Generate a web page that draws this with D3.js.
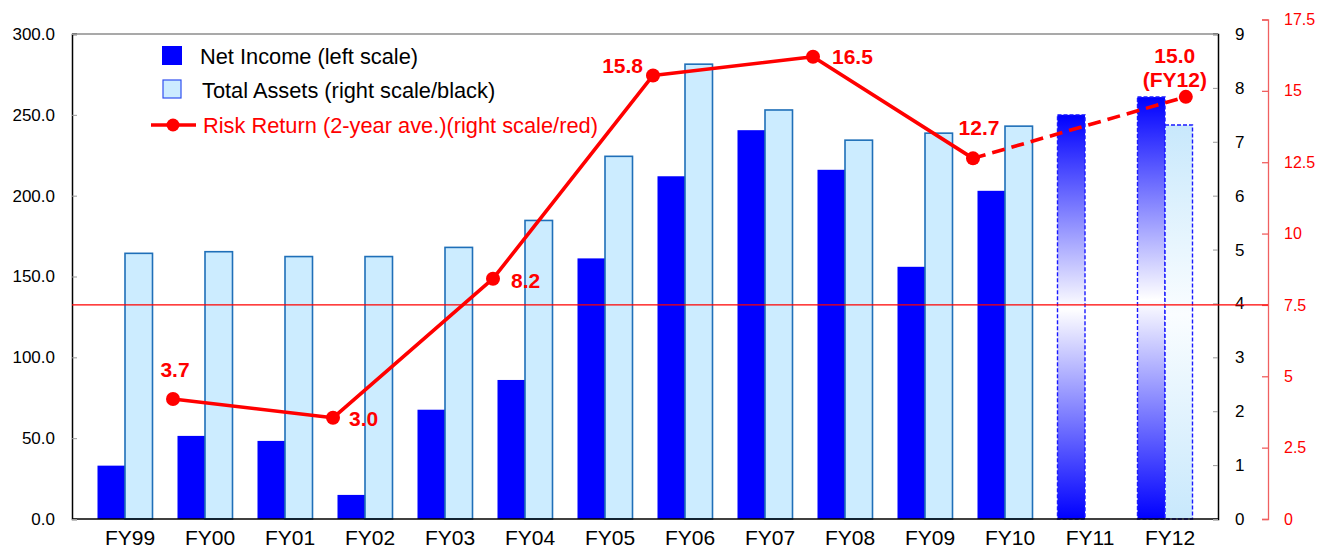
<!DOCTYPE html>
<html>
<head>
<meta charset="utf-8">
<script src="https://cdn.jsdelivr.net/npm/d3@7"></script>
<style>
  html, body { margin: 0; padding: 0; background: #fff; }
  svg { display: block; font-family: Arial, "Liberation Sans", sans-serif; }
</style>
</head>
<body>
<svg id="chart" width="1317" height="548"></svg>
<script>
// Fiscal years on the category axis
const categories = ["FY99","FY00","FY01","FY02","FY03","FY04","FY05","FY06","FY07","FY08","FY09","FY10","FY11","FY12"];
// Years shown as forecasts (gradient fill, dashed outline)
const forecastYears = ["FY11","FY12"];
// Net income, left scale
const netIncome = [33, 51.4, 48.3, 14.9, 67.6, 86, 161.2, 212, 240.5, 216, 156, 203, 250, 261];
// Total assets, right black scale (no figure for FY11)
const totalAssets = [4.93, 4.96, 4.87, 4.87, 5.04, 5.54, 6.73, 8.44, 7.59, 7.03, 7.16, 7.29, null, 7.31];
// Risk return, 2-year average, right red scale
const riskYears = ["FY99","FY01","FY03","FY05","FY07","FY09","FY12"];
const riskValues = [3.7, 3.0, 8.2, 15.8, 16.5, 12.7, 15.0];
// Axis ticks
const leftTicks = [0, 50, 100, 150, 200, 250, 300];
const blackTicks = [0, 1, 2, 3, 4, 5, 6, 7, 8, 9];
const redTicks = [0, 2.5, 5, 7.5, 10, 12.5, 15, 17.5];
const redReference = 7.5;

const svg = d3.select("#chart");
const plot = { left: 72, right: 1218, top: 34, bottom: 519 };
const redAxisX = 1268;
const font = 'Arial, "Liberation Sans", sans-serif';

const x = d3.scaleBand().domain(categories).range([85, 1205]).paddingInner(0.3125).paddingOuter(0.15625);
const xSub = d3.scaleBand().domain(["income", "assets"]).range([0, x.bandwidth()]);
const yLeft = d3.scaleLinear().domain([0, 300]).range([plot.bottom, plot.top]);
const yBlack = d3.scaleLinear().domain([0, 9]).range([plot.bottom, plot.top]);
const yRed = d3.scaleLinear().domain([0, 17.5]).range([plot.bottom, 19.5]);
const yRisk = d3.scaleLinear().domain([0, 17.5]).range([498, 30]);

// Gradients for forecast bars
const defs = svg.append("defs");
function vGrad(id, edge, mid) {
  const g = defs.append("linearGradient").attr("id", id)
    .attr("x1", 0).attr("y1", 0).attr("x2", 0).attr("y2", 1);
  g.append("stop").attr("offset", "0%").attr("stop-color", edge);
  g.append("stop").attr("offset", "48%").attr("stop-color", mid);
  g.append("stop").attr("offset", "100%").attr("stop-color", edge);
}
vGrad("gradIncome", "#0000FF", "#FFFFFF");
vGrad("gradAssets", "#C8E8FC", "#FAFDFF");

const rows = categories.map((c, i) => ({ fy: c, income: netIncome[i], assets: totalAssets[i], forecast: forecastYears.includes(c) }));

// Net income bars
svg.append("g").selectAll("rect").data(rows).join("rect")
  .attr("x", d => x(d.fy) + xSub("income"))
  .attr("y", d => yLeft(d.income))
  .attr("width", xSub.bandwidth())
  .attr("height", d => yLeft(0) - yLeft(d.income))
  .attr("fill", d => d.forecast ? "url(#gradIncome)" : "#0000FF")
  .attr("stroke", d => d.forecast ? "#1A1AFF" : "none")
  .attr("stroke-width", 1.4)
  .attr("stroke-dasharray", d => d.forecast ? "4,2" : null);

// Total assets bars
svg.append("g").selectAll("rect").data(rows.filter(d => d.assets != null)).join("rect")
  .attr("x", d => x(d.fy) + xSub("assets"))
  .attr("y", d => yBlack(d.assets))
  .attr("width", xSub.bandwidth())
  .attr("height", d => yBlack(0) - yBlack(d.assets))
  .attr("fill", d => d.forecast ? "url(#gradAssets)" : "#CCECFF")
  .attr("stroke", d => d.forecast ? "#1A1AFF" : "#1F6FB8")
  .attr("stroke-width", d => d.forecast ? 1.4 : 1.6)
  .attr("stroke-dasharray", d => d.forecast ? "4,2" : null);

// Plot frame
const frame = svg.append("g");
frame.append("line").attr("x1", plot.left).attr("x2", plot.right).attr("y1", plot.top).attr("y2", plot.top)
  .attr("stroke", "#8C8C8C").attr("stroke-width", 1.5);
frame.append("line").attr("x1", plot.left).attr("x2", plot.right).attr("y1", plot.bottom).attr("y2", plot.bottom)
  .attr("stroke", "#000").attr("stroke-width", 1.5);

// Left axis
const gLeft = svg.append("g").attr("transform", `translate(${plot.left},0)`)
  .call(d3.axisRight(yLeft).tickValues(leftTicks).tickSize(5).tickFormat(d3.format(".1f")));
gLeft.select(".domain").attr("stroke", "#000").attr("stroke-width", 1.5);
gLeft.selectAll(".tick line").attr("stroke", "#999");
gLeft.selectAll(".tick text").attr("x", -17).attr("text-anchor", "end")
  .attr("font-family", font).attr("font-size", 17).attr("fill", "#000");

// Right black axis
const gBlack = svg.append("g").attr("transform", `translate(${plot.right},0)`)
  .call(d3.axisLeft(yBlack).tickValues(blackTicks).tickSize(5).tickFormat(d3.format("d")));
gBlack.select(".domain").attr("stroke", "#000").attr("stroke-width", 1.5);
gBlack.selectAll(".tick line").attr("stroke", "#999");
gBlack.selectAll(".tick text").attr("x", 17).attr("text-anchor", "start")
  .attr("font-family", font).attr("font-size", 17).attr("fill", "#000");

// Right red axis
const gRed = svg.append("g").attr("transform", `translate(${redAxisX},0)`)
  .call(d3.axisLeft(yRed).tickValues(redTicks).tickSize(6).tickFormat(d => String(d)));
gRed.select(".domain").attr("stroke", "#F06060").attr("stroke-width", 1.3);
gRed.selectAll(".tick line").attr("stroke", "#F06060").attr("stroke-width", 1.3);
gRed.selectAll(".tick text").attr("x", 16).attr("text-anchor", "start")
  .attr("font-family", font).attr("font-size", 16).attr("fill", "#FF0000");

// Category labels
svg.append("g").selectAll("text").data(categories).join("text")
  .attr("x", d => x(d) + x.bandwidth() / 2 + 5)
  .attr("y", 545)
  .attr("text-anchor", "middle")
  .attr("font-family", font).attr("font-size", 21).attr("fill", "#000")
  .text(d => d);

// Red reference line on the red scale
svg.append("line")
  .attr("x1", plot.left).attr("x2", redAxisX)
  .attr("y1", yRed(redReference)).attr("y2", yRed(redReference))
  .attr("stroke", "#FF0000").attr("stroke-width", 1.3);

// Risk return line
const risk = riskYears.map((fy, i) => ({ fy, value: riskValues[i], forecast: forecastYears.includes(fy) }));
const rx = d => x(d.fy) + x.bandwidth() / 2 + x.step() * (d.forecast ? 0.26 : 0.6);
const line = d3.line().x(rx).y(d => yRisk(d.value));
const actual = risk.filter(d => !d.forecast);
const lastActual = actual[actual.length - 1];
const projected = [lastActual].concat(risk.filter(d => d.forecast));

svg.append("path").datum(actual).attr("d", line)
  .attr("fill", "none").attr("stroke", "#FF0000").attr("stroke-width", 3.6).attr("stroke-linejoin", "round");
svg.append("path").datum(projected).attr("d", line)
  .attr("fill", "none").attr("stroke", "#FF0000").attr("stroke-width", 3.6).attr("stroke-dasharray", "13,7");

svg.append("g").selectAll("circle").data(risk).join("circle")
  .attr("cx", rx).attr("cy", d => yRisk(d.value)).attr("r", 7)
  .attr("fill", "#FF0000");

// Value labels next to the risk return points
const labelPos = {
  FY99: { dx: 2, dy: -22, anchor: "middle" },
  FY01: { dx: 16, dy: 8, anchor: "start" },
  FY03: { dx: 18, dy: 9, anchor: "start" },
  FY05: { dx: -10, dy: -2, anchor: "end" },
  FY07: { dx: 19, dy: 7, anchor: "start" },
  FY09: { dx: 6, dy: -23, anchor: "middle" },
  FY12: { dx: -11, dy: -34, anchor: "middle" }
};
const labels = svg.append("g").attr("font-family", font).attr("font-size", 21)
  .attr("font-weight", "bold").attr("fill", "#FF0000");
risk.forEach(d => {
  const p = labelPos[d.fy];
  labels.append("text")
    .attr("x", rx(d) + p.dx).attr("y", yRisk(d.value) + p.dy)
    .attr("text-anchor", p.anchor)
    .text(d.value.toFixed(1));
  if (d.forecast) {
    labels.append("text")
      .attr("x", rx(d) + p.dx).attr("y", yRisk(d.value) + p.dy + 24)
      .attr("text-anchor", p.anchor)
      .text(`(${d.fy})`);
  }
});

// Legend
const legend = svg.append("g").attr("font-family", font).attr("font-size", 21.8);
legend.append("rect").attr("x", 162).attr("y", 46).attr("width", 20).attr("height", 19).attr("fill", "#0000FF");
legend.append("text").attr("x", 200).attr("y", 64).attr("fill", "#000").text("Net Income (left scale)");
legend.append("rect").attr("x", 163).attr("y", 80).attr("width", 18).attr("height", 18)
  .attr("fill", "#CCECFF").attr("stroke", "#3050F0").attr("stroke-width", 1.2);
legend.append("text").attr("x", 202).attr("y", 98).attr("fill", "#000").text("Total Assets (right scale/black)");
legend.append("line").attr("x1", 151).attr("x2", 196).attr("y1", 125).attr("y2", 125)
  .attr("stroke", "#FF0000").attr("stroke-width", 3.6);
legend.append("circle").attr("cx", 173).attr("cy", 125).attr("r", 6.5).attr("fill", "#FF0000");
legend.append("text").attr("x", 203).attr("y", 133).attr("fill", "#FF0000").text("Risk Return (2-year ave.)(right scale/red)");
</script>
</body>
</html>
